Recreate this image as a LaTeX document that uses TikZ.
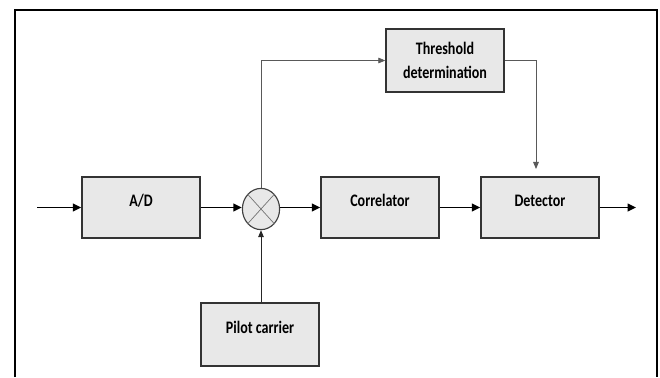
\documentclass[tikz,border=0pt]{standalone}
\usepackage{fontspec}
\setmainfont{Carlito}
\usetikzlibrary{arrows.meta, shapes.geometric}
\tikzset{block/.style={draw=black!80, fill=gray!18, line width=1.1pt, xscale=0.8, transform shape, minimum width=3.69cm, minimum height=1.525cm, inner sep=0pt, align=center, font=\fontsize{12.5}{17}\selectfont\bfseries},
upper/.style={text height=9pt, text depth=10pt},
sig/.style={line width=1.1pt, -{Triangle[length=6pt,width=5.5pt]}},
thinsig/.style={draw=black!65, line width=0.6pt, -{Triangle[length=5pt,width=4pt]}}}
\begin{document}
\begin{tikzpicture}[x=0.025cm,y=-0.025cm]
    \useasboundingbox (0,0) rectangle (660,377);
    % frame
    \draw[line width=2pt] (15,377) -- (15,10) -- (657,10) -- (657,377);
    % blocks
    \node[block, upper] (ad) at (141,207.5) {A/D};
    \node[ellipse, draw=black!75, fill=gray!18, line width=0.8pt, minimum width=0.93cm, minimum height=1.03cm, inner sep=0pt] (mix) at (261,209) {};
    \draw[black!55, line width=0.5pt] (mix.north west) -- (mix.south east);
    \draw[black!55, line width=0.5pt] (mix.north east) -- (mix.south west);
    \node[block, upper] (corr) at (380,207.5) {Correlator};
    \node[block, upper] (det) at (540,207.5) {Detector};
    \node[block, minimum height=1.575cm] (thr) at (445,60.5) {Threshold\\determination};
    \node[block, upper, minimum height=1.575cm] (pilot) at (260,334.5) {Pilot carrier};
    \coordinate (in) at (37,207.5);
    \coordinate (out) at (636,207.5);
    % signal path
    \draw[sig] (in) -- (ad);
    \draw[sig] (ad) -- (mix.west |- ad);
    \draw[sig] (mix.east |- corr) -- (corr);
    \draw[sig] (corr) -- (det);
    \draw[sig] (det) -- (out);
    \draw[thinsig] (mix.north) |- (thr.west);
    \draw[thinsig, shorten >=0.18cm] (thr.east) -| ([xshift=-0.1cm]det.north);
    \draw[thinsig, draw=black!85] (mix.south |- pilot.north) -- (mix.south);
\end{tikzpicture}
\end{document}
